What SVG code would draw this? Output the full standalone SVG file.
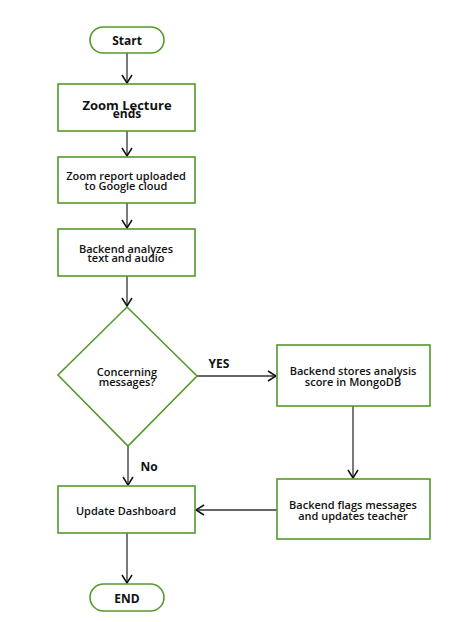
<svg xmlns="http://www.w3.org/2000/svg" width="469" height="622" viewBox="0 0 469 622">
<style>
.n{fill:#fff;stroke:#55992b;stroke-width:1.6}
.c{fill:none;stroke:#333;stroke-width:1.3}
text{font-family:"Open Sans","Noto Sans","DejaVu Sans",sans-serif;font-size:11px;fill:#111;text-anchor:middle}
.b{font-weight:bold;font-size:12px}
.big{font-weight:bold;font-size:13px}
.m{font-weight:600}
</style>
<defs>
<marker id="a" viewBox="0 0 10 12" refX="9" refY="6" markerWidth="10" markerHeight="12" markerUnits="userSpaceOnUse" orient="auto">
<path d="M1,1 L9,6 L1,11" fill="none" stroke="#111" stroke-width="1.5"/>
</marker>
</defs>
<rect width="469" height="622" fill="#fff"/>
<g id="connectors">
<line class="c" x1="127" y1="53" x2="127" y2="83" marker-end="url(#a)"/>
<line class="c" x1="127" y1="131" x2="127" y2="156" marker-end="url(#a)"/>
<line class="c" x1="127" y1="203" x2="127" y2="228" marker-end="url(#a)"/>
<line class="c" x1="127" y1="276" x2="127" y2="306" marker-end="url(#a)"/>
<line class="c" x1="197" y1="376" x2="276" y2="376" marker-end="url(#a)"/>
<line class="c" x1="353" y1="406" x2="353" y2="478" marker-end="url(#a)"/>
<line class="c" x1="128" y1="446" x2="128" y2="485" marker-end="url(#a)"/>
<line class="c" x1="277" y1="510" x2="196" y2="510" marker-end="url(#a)"/>
<line class="c" x1="127" y1="533" x2="127" y2="583" marker-end="url(#a)"/>
<text class="b" x="219" y="368">YES</text>
<text class="b" x="149" y="471">No</text>
</g>
<g id="start">
<rect class="n" x="90" y="27" width="74" height="26" rx="13"/>
<text class="b" x="127" y="45">Start</text>
</g>
<g id="zoom-ends">
<rect class="n" x="58" y="84" width="137" height="47"/>
<text class="big" x="127" y="110">Zoom Lecture</text>
<text class="b" x="127" y="118">ends</text>
</g>
<g id="uploaded">
<rect class="n" x="58" y="157" width="137" height="46"/>
<text class="m" x="126" y="180">Zoom report uploaded</text>
<text class="m" x="126" y="190">to Google cloud</text>
</g>
<g id="analyzes">
<rect class="n" x="58" y="229" width="137" height="47"/>
<text class="m" x="126" y="253">Backend analyzes</text>
<text class="m" x="126" y="262">text and audio</text>
</g>
<g id="decision">
<polygon class="n" points="127,307 197,376 128,446 58,375"/>
<text class="m" x="127" y="376">Concerning</text>
<text class="m" x="127" y="386">messages?</text>
</g>
<g id="stores">
<rect class="n" x="277" y="345" width="153" height="61"/>
<text class="m" x="353" y="375">Backend stores analysis</text>
<text class="m" x="353" y="386">score in MongoDB</text>
</g>
<g id="flags">
<rect class="n" x="277" y="479" width="153" height="60"/>
<text class="m" x="353" y="509">Backend flags messages</text>
<text class="m" x="353" y="520">and updates teacher</text>
</g>
<g id="dashboard">
<rect class="n" x="58" y="486" width="137" height="47"/>
<text class="m" x="126" y="515">Update Dashboard</text>
</g>
<g id="end">
<rect class="n" x="90" y="584" width="74" height="27" rx="13.5"/>
<text class="b" x="127" y="603">END</text>
</g>
</svg>
